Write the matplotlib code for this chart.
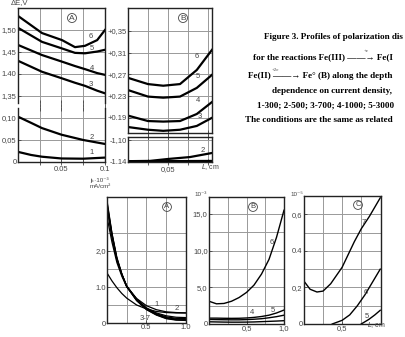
import matplotlib
matplotlib.use("Agg")
import matplotlib.pyplot as plt

W, H = 406, 337
plt.rcParams['font.family'] = ['Liberation Sans', 'DejaVu Sans']
plt.rcParams['font.size'] = 5.5

# ---- top panel A: polarization vs depth (x in cm)
ta_x = [0, 0.0276, 0.0506, 0.0655, 0.077, 0.091, 0.1]
ta_6 = [1.532, 1.493, 1.477, 1.461, 1.464, 1.477, 1.500]
ta_5 = [1.505, 1.473, 1.458, 1.448, 1.447, 1.451, 1.455]
ta_4 = [1.466, 1.443, 1.428, 1.418, 1.411, 1.402, 1.398]
ta_3 = [1.430, 1.405, 1.390, 1.380, 1.373, 1.362, 1.356]
ta_low_x = [0, 0.015, 0.0276, 0.05, 0.075, 0.1]
ta_2 = [0.103, 0.089, 0.077, 0.062, 0.050, 0.041]
ta_1 = [0.023, 0.016, 0.012, 0.008, 0.0075, 0.010]

# ---- top panel B
tb_x = [0, 0.025, 0.044, 0.065, 0.086, 0.105]
tb_6 = [0.2635, 0.252, 0.249, 0.252, 0.278, 0.315]
tb_5 = [0.241, 0.229, 0.227, 0.229, 0.245, 0.269]
tb_4 = [0.194, 0.184, 0.183, 0.184, 0.197, 0.219]
tb_3 = [0.173, 0.168, 0.166, 0.168, 0.175, 0.190]
tb_low_x = [0, 0.0275, 0.05, 0.0775, 0.105]
tb_2 = [-1.1385, -1.138, -1.1345, -1.131, -1.1236]
tb_1 = [-1.1395, -1.1395, -1.1392, -1.139, -1.1388]

# ---- bottom panel A: current density vs L
ba_x = [0, 0.0625, 0.125, 0.1875, 0.25, 0.375, 0.5, 0.625, 0.75, 0.875, 1.0]
ba_1 = [1.39, 1.17, 0.98, 0.82, 0.69, 0.50, 0.39, 0.32, 0.29, 0.28, 0.28]
ba_2 = [2.95, 2.25, 1.68, 1.30, 1.00, 0.68, 0.48, 0.37, 0.31, 0.29, 0.28]
ba_37 = [
    [3.20, 2.40, 1.75, 1.35, 1.03, 0.67, 0.42, 0.28, 0.20, 0.16, 0.15],
    [3.25, 2.42, 1.76, 1.34, 1.02, 0.65, 0.40, 0.26, 0.17, 0.13, 0.12],
    [3.30, 2.45, 1.78, 1.35, 1.02, 0.64, 0.39, 0.24, 0.15, 0.11, 0.10],
    [3.35, 2.48, 1.80, 1.36, 1.01, 0.63, 0.38, 0.23, 0.13, 0.09, 0.08],
    [3.40, 2.50, 1.82, 1.37, 1.01, 0.62, 0.37, 0.22, 0.12, 0.08, 0.07],
]

# ---- bottom panel B
bb_x = [0, 0.1, 0.2, 0.3, 0.4, 0.5, 0.6, 0.7, 0.8, 0.9, 1.0]
bb_6 = [3.1, 2.75, 2.8, 3.1, 3.6, 4.3, 5.3, 6.8, 8.8, 11.8, 15.5]
bb_5 = [0.8, 0.8, 0.78, 0.77, 0.78, 0.82, 0.9, 1.02, 1.2, 1.5, 1.9]
bb_4 = [0.62, 0.6, 0.58, 0.57, 0.57, 0.6, 0.65, 0.72, 0.85, 1.0, 1.2]
bb_3 = [0.3, 0.28, 0.26, 0.25, 0.25, 0.26, 0.28, 0.32, 0.36, 0.4, 0.45]

# ---- bottom panel C
bc7_x = [0, 0.08, 0.17, 0.25, 0.35, 0.5, 0.66, 0.75, 0.86, 1.0]
bc_7 = [0.234, 0.19, 0.175, 0.18, 0.22, 0.31, 0.45, 0.52, 0.59, 0.69]
bc6_x = [0.37, 0.5, 0.6, 0.7, 0.8, 0.9, 1.0]
bc_6 = [0.0, 0.02, 0.05, 0.10, 0.16, 0.23, 0.30]
bc5_x = [0.75, 0.85, 0.93, 1.0]
bc_5 = [0.0, 0.025, 0.05, 0.075]

# caption as it is visible (the scan cuts it at the right edge)
caption = [
    (264, 37, "Figure 3. Profiles of polarization dis"),
    (253, 57, "for the reactions Fe(III) \u2014\u2014\u2192 Fe(I"),
    (248, 76, "Fe(II) \u2014\u2014\u2192 Fe\u00b0 (B) along the depth"),
    (272, 91, "dependence on current density,"),
    (257, 106, "1-300; 2-500; 3-700; 4-1000; 5-3000"),
    (245, 120, "The conditions are the same as related"),
]

fig = plt.figure(figsize=(W / 100, H / 100), dpi=100)


def panel(x0, y0, x1, y1):
    ax = fig.add_axes([x0 / W, 1 - y1 / H, (x1 - x0) / W, (y1 - y0) / H])
    for s in ax.spines.values():
        s.set_linewidth(1.0)
        s.set_color('#222')
    ax.tick_params(which='both', labelsize=5.5, colors='#444', length=2,
                   width=0.6, pad=1, direction='in')
    ax.grid(True, which='both', color='#999', lw=0.7)
    ax.set_axisbelow(True)
    return ax


def fx(x, y, s, size=5.5, **kw):
    fig.text(x / W, 1 - y / H, s, fontsize=size, color='#444',
             ha='center', va='center', **kw)


def circled(x, y, s, size=6):
    fig.text(x / W, 1 - y / H, s, fontsize=size, color='#444',
             ha='center', va='center',
             bbox=dict(boxstyle='circle,pad=0.12', fc='none', ec='#444', lw=0.6))


# top A, upper
ax = panel(18, 8, 105, 103)
ax.plot(ta_x, ta_6, 'k', lw=1.6)
ax.plot(ta_x, ta_5, 'k', lw=1.6)
ax.plot(ta_x, ta_4, 'k', lw=1.6)
ax.plot(ta_x, ta_3, 'k', lw=1.6)
ax.set_xlim(0, 0.1)
ax.set_ylim(1.334, 1.55)
ax.set_yticks([1.35, 1.40, 1.45, 1.50], ['1,35', '1.40', '1,45', '1,50'])
ax.set_xticks([0.025, 0.05, 0.075, 0.1], [])
ax.spines['bottom'].set_visible(False)
ax.tick_params(axis='x', direction='inout', length=4)

ax = panel(18, 108, 105, 162)
ax.plot(ta_low_x, ta_2, 'k', lw=1.6)
ax.plot(ta_low_x, ta_1, 'k', lw=1.6)
ax.set_xlim(0, 0.1)
ax.set_ylim(0, 0.1227)
ax.set_yticks([0, 0.05, 0.10], ['0', '0,05', '0,10'])
ax.set_xticks([0.025, 0.05, 0.075, 0.1], ['', '0.05', '', '0.1'])
ax.spines['top'].set_visible(False)
ax.tick_params(axis='x', top=True, direction='inout', length=4)

# top B
ax = panel(128, 8, 212, 133)
for c in (tb_6, tb_5, tb_4, tb_3):
    ax.plot(tb_x, c, 'k', lw=1.6)
ax.set_xlim(0, 0.105)
ax.set_ylim(0.162, 0.392)
ax.set_yticks([0.19, 0.23, 0.27, 0.31, 0.35],
              ['+0.19', '+0.23', '+0,27', '+0,31', '+0,35'])
ax.set_xticks([0.025, 0.05, 0.075, 0.1], [])
ax.tick_params(axis='x', direction='inout', length=4)

ax = panel(128, 137, 212, 162)
ax.plot(tb_low_x, tb_2, 'k', lw=1.6)
ax.plot(tb_low_x, tb_1, 'k', lw=2.2)
ax.set_xlim(0, 0.105)
ax.set_ylim(-1.14, -1.0945)
ax.set_yticks([-1.14, -1.10], ['-1.14', '-1,10'])
ax.set_xticks([0.025, 0.05, 0.075, 0.1], ['', '0,05', '', ''])
ax.tick_params(axis='x', top=True, direction='inout', length=4)

# bottom A
ax = panel(107, 197, 186, 323)
ax.plot(ba_x, ba_1, 'k', lw=0.9)
ax.plot(ba_x, ba_2, 'k', lw=0.9)
for c in ba_37:
    ax.plot(ba_x, c, 'k', lw=0.9)
ax.set_xlim(0, 1.0)
ax.set_ylim(0, 3.5)
ax.set_yticks([0, 1, 2], ['0', '1.0', '2,0'])
ax.set_yticks([0.5, 1.5, 2.5], minor=True)
ax.set_xticks([0.5, 1.0], ['0.5', '1.0'])
ax.set_xticks([0.25, 0.75], minor=True)
ax.tick_params(which='minor', length=0)

# bottom B
ax = panel(209, 197, 284, 324)
for c in (bb_6, bb_5, bb_4, bb_3):
    ax.plot(bb_x, c, 'k', lw=1.0)
ax.set_xlim(0, 1.0)
ax.set_ylim(0, 17.3)
ax.set_yticks([0, 5, 10, 15], ['0', '5,0', '10,0', '15,0'])
ax.set_yticks([2.5, 7.5, 12.5], minor=True)
ax.set_xticks([0.5, 1.0], ['0,5', '1,0'])
ax.set_xticks([0.25, 0.75], minor=True)
ax.tick_params(which='minor', length=0)

# bottom C
ax = panel(304, 196, 381, 324)
ax.plot(bc7_x, bc_7, 'k', lw=1.0)
ax.plot(bc6_x, bc_6, 'k', lw=1.0)
ax.plot(bc5_x, bc_5, 'k', lw=1.0)
ax.set_xlim(0, 1.01)
ax.set_ylim(0, 0.70)
ax.set_yticks([0, 0.2, 0.4, 0.6], ['0', '0,2', '0.4', '0,6'])
ax.set_yticks([0.1, 0.3, 0.5], minor=True)
ax.set_xticks([0.5], ['0,5'])
ax.set_xticks([0.25, 0.75], minor=True)
ax.tick_params(which='minor', length=0)

# axis titles and curve labels
fx(20, 3, '\u0394E,V', 5.5)
circled(72, 18, 'A', 6)
circled(183, 18, 'B', 6)
circled(167, 207, 'A', 5.5)
circled(253, 207, 'B', 5.5)
circled(358, 205, 'C', 5.5)
for x, y, s in [(91, 36, '6'), (92, 48, '5'), (92, 68, '4'), (91, 85, '3'),
                (92, 138, '2'), (92, 153, '1'),
                (197, 57, '6'), (198, 77, '5'), (198, 101, '4'), (200, 117, '3'),
                (203, 150, '2'),
                (157, 305, '1'), (177, 308, '2'), (145, 318, '3-7'),
                (272, 242, '6'), (252, 313, '4'), (273, 310, '5'),
                (364, 223, '7'), (366, 292, '6'), (367, 317, '5')]:
    fx(x, y, s, 5.5)
fx(210, 167, '$\\it{L}$, cm', 5)
fx(376, 325, '$\\it{L}$, cm', 5)
fx(100, 180, 'j\u2096\u00b710\u207b\u00b3', 4.5)
fx(100, 187, 'mA/cm\u00b2', 4.5)
fx(201, 195, '10\u207b\u00b3', 4.5)
fx(297, 195, '10\u207b\u2075', 4.5)

for x, y, s in caption:
    fig.text(x / W, 1 - y / H, s, fontsize=6.6, fontweight='bold',
             family=['Liberation Serif', 'DejaVu Serif'], ha='left', va='center')
fx(366, 51, '+e', 3.5, family=['Liberation Serif'])
fx(276, 70, '+2e', 3.5, family=['Liberation Serif'])

fig.savefig('out.png', dpi=100)
